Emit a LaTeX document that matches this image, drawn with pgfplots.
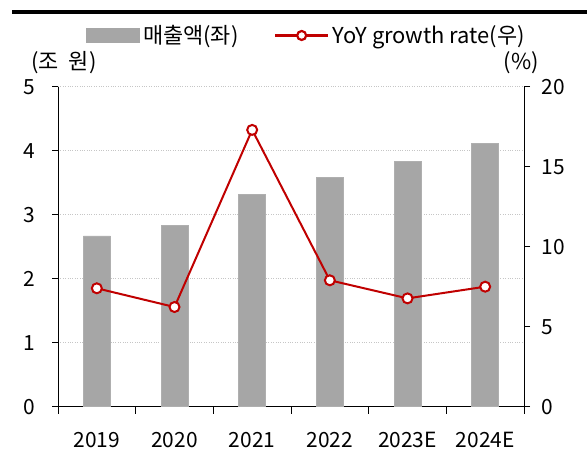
\documentclass[border=0pt]{standalone}
\usepackage{pgfplots}
\pgfplotsset{compat=1.18}
\usepackage{fontspec}
\setmainfont{Noto Sans CJK KR}
\definecolor{barg}{HTML}{A6A6A6}
\definecolor{linered}{HTML}{C00000}
\begin{document}
\begin{tikzpicture}[x=1bp,y=1bp]
\useasboundingbox (0,0) rectangle (587,452);
\draw[line width=3.5bp] (12,440) -- (587,440);
\pgfplotsset{
  every axis/.append style={
    scale only axis, width=466bp, height=320bp,
    at={(58bp,45.3bp)}, anchor=south west,
    xmin=-0.5, xmax=5.5,
    clip=false,
    tick align=outside,
    axis line style={black, line width=1bp},
    font=\fontsize{21}{23}\selectfont,
    /pgf/number format/assume math mode=true,
  }
}
\begin{axis}[
  axis lines*=left,
  ymin=0, ymax=5, ytick={0,1,2,3,4,5},
  major tick length=6bp,
  ytick style={black, line width=1bp},
  ymajorgrids, grid style={dotted, gray!45, line width=1.2bp},
  xtick={0,1,2,3,4,5},
  xticklabels={2019,2020,2021,2022,2023E,2024E},
  x tick style={draw=none},
  minor xtick={-0.5,0.5,1.5,2.5,3.5,4.5,5.5},
  minor x tick style={draw=black, line width=1bp},
  minor tick length=7bp,
  xticklabel style={yshift=-16bp},
  yticklabel style={xshift=-13bp},
  legend columns=2,
  legend style={draw=none, fill=none, at={(0.535,1.16)}, anchor=center,
    font=\fontsize{22}{24}\selectfont,
    /tikz/every even column/.append style={column sep=32bp},
    nodes={inner sep=3.5bp}},
  legend cell align=left,
]
\addplot[ybar, bar width=27bp, fill=barg, draw=barg!90,
  legend image code/.code={\fill[barg] (0bp,-7bp) rectangle (53bp,7bp);}]
  coordinates {(0,2.67) (1,2.83) (2,3.32) (3,3.58) (4,3.83) (5,4.12)};
\addlegendentry{매출액(좌)}
\addlegendimage{legend image code/.code={
    \draw[draw=linered, line width=2.2bp] (0bp,0bp) -- (53bp,0bp);
    \draw[draw=linered, line width=2.2bp, fill=white] (26.5bp,0bp) circle (4.5bp);}}
\addlegendentry{YoY growth rate(우)}
\node[anchor=center, font=\fontsize{22}{24}\selectfont] at (rel axis cs:0.013,1.074) {(조\ \ 원)};
\node[anchor=center, font=\fontsize{22}{24}\selectfont] at (rel axis cs:0.994,1.074) {(\%)};
\end{axis}
\begin{axis}[
  axis x line=none,
  axis y line*=right,
  ymin=0, ymax=20, ytick={0,5,10,15,20},
  major tick length=6bp,
  ytick style={black, line width=1bp},
  yticklabel style={xshift=8bp},
]
\addplot[linered, line width=2bp, mark=*, mark size=5bp,
  mark options={fill=white, draw=linered, line width=2bp}]
  coordinates {(0,7.4) (1,6.23) (2,17.3) (3,7.9) (4,6.77) (5,7.5)};
\end{axis}
\end{tikzpicture}
\end{document}
